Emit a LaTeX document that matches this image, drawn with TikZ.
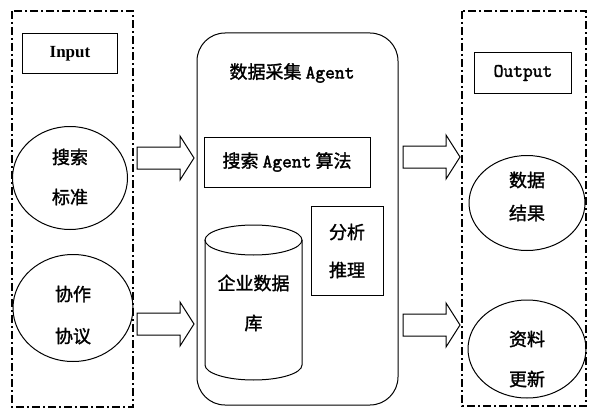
\documentclass[tikz,border=0pt]{standalone}
\usepackage{fontspec}
\setmainfont{Liberation Serif}
\newfontfamily\cjk{Noto Sans CJK SC}[FakeBold=1.5]
\newfontfamily\mono{Latin Modern Mono}[FakeBold=2]
\usetikzlibrary{shapes.geometric}
\begin{document}
\begin{tikzpicture}[x=1pt,y=-1pt,
  grp/.style={line width=2.4pt, dash pattern=on 8pt off 3pt on 2pt off 3pt},
  solid1/.style={line width=1pt},
  oval/.style={draw, ellipse, line width=1pt, inner sep=0pt},
  zh/.style={font=\fontsize{18}{22}\selectfont\cjk},
  barrow/.pic={\draw[line width=1pt] (0,-11) -- (43,-11) -- (43,-22) -- (57,0) -- (43,22) -- (43,11) -- (0,11) -- cycle;}
]
\useasboundingbox (0,0) rectangle (589,412);
% input group
\draw[grp] (12,11) rectangle (133,407);
\node[draw, solid1, minimum width=95, minimum height=40, font=\fontsize{17}{20}\selectfont\bfseries] (in) at (70,54) {Input};
\node[oval, minimum width=115, minimum height=103] (c1) at (70,178) {};
\node[zh] (c1a) at (70,157) {搜索};
\node[zh] (c1b) at (70,197) {标准};
\node[oval, minimum width=120, minimum height=107] (c2) at (73,308) {};
\node[zh] (c2a) at (73,294) {协作};
\node[zh] (c2b) at (73,336) {协议};
% arrows
\pic (a1) at (137,158) {barrow};
\pic (a2) at (137,324) {barrow};
\pic (a3) at (403,157) {barrow};
\pic (a4) at (403,325) {barrow};
% main
\draw[solid1, rounded corners=28] (197,33) rectangle (398,405);
\node[zh] (title) at (292,73) {数据采集 {\fontsize{19}{20}\selectfont\mono Agent}};
\node[draw, solid1, minimum width=166, minimum height=50, zh] (alg) at (287,162) {搜索 {\fontsize{19}{20}\selectfont\mono Agent} 算法};
\node[draw, solid1, minimum width=72, minimum height=89] (ana) at (347,250.5) {};
\node[zh] (ana1) at (347,232) {分析};
\node[zh] (ana2) at (347,270) {推理};
% cylinder
\draw[solid1] (253.5,240) ellipse [x radius=48.5, y radius=15];
\draw[solid1] (205,240) -- (205,365) arc[start angle=180, end angle=360, x radius=48.5, y radius=-15] -- (302,240);
\node[zh] (db1) at (253.5,283) {企业数据};
\node[zh] (db2) at (253.5,323) {库};
% output group
\draw[grp] (462,11) rectangle (586,406);
\node[draw, solid1, minimum width=97, minimum height=40, font=\fontsize{19}{20}\selectfont\mono] (out) at (523,73) {Output};
\node[oval, minimum width=116, minimum height=95] (c3) at (527,203) {};
\node[zh] (c3a) at (527,180) {数据};
\node[zh] (c3b) at (527,213) {结果};
\node[oval, minimum width=118, minimum height=98] (c4) at (527,349) {};
\node[zh] (c4a) at (527,339) {资料};
\node[zh] (c4b) at (527,379) {更新};
\end{tikzpicture}
\end{document}
